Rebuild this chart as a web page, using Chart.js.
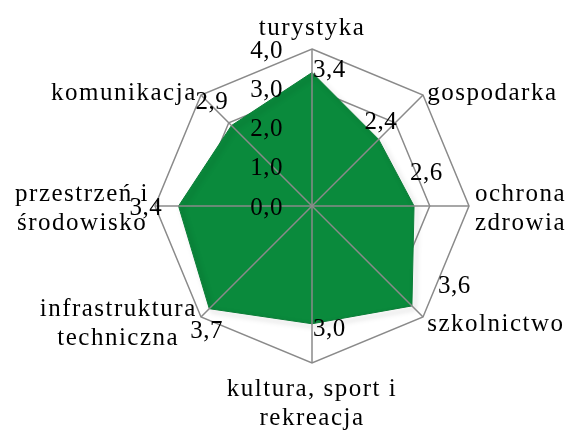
<!DOCTYPE html>
<html>
<head>
<meta charset="utf-8">
<script src="https://cdn.jsdelivr.net/npm/chart.js@4"></script>
<style>
    html, body { margin: 0; padding: 0; background: #ffffff; }
</style>
</head>
<body>
<canvas id="radarChart" width="572" height="430"></canvas>
<script>
// Data
const categories = [
    ['turystyka'],
    ['gospodarka'],
    ['ochrona', 'zdrowia'],
    ['szkolnictwo'],
    ['kultura, sport i', 'rekreacja'],
    ['infrastruktura', 'techniczna'],
    ['przestrzeń i', 'środowisko'],
    ['komunikacja']
];
const ratings = [3.4, 2.4, 2.6, 3.6, 3.0, 3.7, 3.4, 2.9];
const tickValues = [0, 1, 2, 3, 4];

// Where each value label sits relative to its point (Excel-like placement)
const valueLabelOffsets = [
    [1, -2], [-14, -17], [-4, -33], [26, -19],
    [1, 6], [-19, 23], [-49, 2], [-36, -23]
];

const LABEL_FONT = '25px "Liberation Serif", serif';
const NUMBER_FONT = '25px "Liberation Serif", serif';
const LINE_COLOR = '#8a8a8a';
const LINE_HEIGHT = 29;

const fmt = v => v.toFixed(1).replace('.', ',');

// Shadow under the filled polygon
const shadowPlugin = {
    id: 'shadow',
    beforeDatasetDraw(chart) {
        const ctx = chart.ctx;
        ctx.save();
        ctx.shadowColor = 'rgba(0, 0, 0, 0.35)';
        ctx.shadowBlur = 5;
        ctx.shadowOffsetX = 3;
        ctx.shadowOffsetY = 3;
    },
    afterDatasetDraw(chart) {
        chart.ctx.restore();
    }
};

// Angle lines, tick labels, value labels and category labels on top
const overlayPlugin = {
    id: 'overlay',
    afterDatasetsDraw(chart) {
        const ctx = chart.ctx;
        const scale = chart.scales.r;
        const cx = scale.xCenter;
        const cy = scale.yCenter;
        const n = categories.length;

        ctx.save();
        // angle lines above the fill
        ctx.strokeStyle = LINE_COLOR;
        ctx.lineWidth = 1.5;
        for (let i = 0; i < n; i++) {
            const p = scale.getPointPosition(i, scale.drawingArea);
            ctx.beginPath();
            ctx.moveTo(cx, cy);
            ctx.lineTo(p.x, p.y);
            ctx.stroke();
        }

        ctx.fillStyle = '#000000';
        ctx.textBaseline = 'middle';
        ctx.font = NUMBER_FONT;
        ctx.letterSpacing = '0.5px';

        // tick labels, left of the vertical axis
        ctx.textAlign = 'right';
        tickValues.forEach(v => {
            const d = scale.getDistanceFromCenterForValue(v);
            ctx.fillText(fmt(v), cx - 29, cy - d + 2);
        });

        // value labels
        ctx.textAlign = 'left';
        const meta = chart.getDatasetMeta(0);
        meta.data.forEach((pt, i) => {
            const off = valueLabelOffsets[i];
            ctx.fillText(fmt(ratings[i]), pt.x + off[0], pt.y + off[1]);
        });

        // category labels
        ctx.font = LABEL_FONT;
        ctx.letterSpacing = '1.5px';
        for (let i = 0; i < n; i++) {
            const lines = categories[i];
            const p = scale.getPointPosition(i, scale.drawingArea + 6);
            const blockW = Math.max(...lines.map(l => ctx.measureText(l).width));
            const blockH = lines.length * LINE_HEIGHT;
            let midX;
            if (p.x > cx + 1) midX = p.x + blockW / 2;
            else if (p.x < cx - 1) midX = p.x - blockW / 2;
            else midX = p.x;
            let top;
            if (p.y < cy - scale.drawingArea + 10) top = p.y - blockH;
            else if (p.y > cy + scale.drawingArea - 10) top = p.y + 6;
            else top = p.y - blockH / 2 + 3;
            ctx.textAlign = 'center';
            lines.forEach((line, k) => {
                ctx.fillText(line, midX, top + LINE_HEIGHT * k + LINE_HEIGHT / 2);
            });
        }
        ctx.restore();
    }
};

new Chart(document.getElementById('radarChart').getContext('2d'), {
    type: 'radar',
    data: {
        labels: categories,
        datasets: [{
            data: ratings,
            backgroundColor: '#0a8a3c',
            borderColor: '#0b7d37',
            borderWidth: 1,
            pointRadius: 0,
            fill: true
        }]
    },
    options: {
        responsive: false,
        animation: false,
        layout: { padding: { left: 155, right: 103, top: 49, bottom: 67 } },
        plugins: {
            legend: { display: false },
            tooltip: { enabled: false }
        },
        scales: {
            r: {
                min: 0,
                max: 4,
                ticks: { display: false, stepSize: 1 },
                grid: { color: LINE_COLOR, lineWidth: 1.5 },
                angleLines: { display: false },
                pointLabels: { display: false }
            }
        }
    },
    plugins: [shadowPlugin, overlayPlugin]
});
</script>
</body>
</html>
